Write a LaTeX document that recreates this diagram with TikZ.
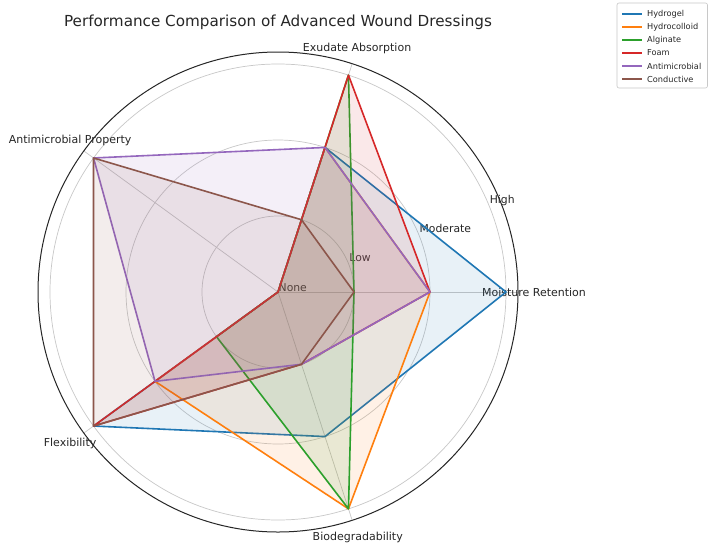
\documentclass[tikz,border=0pt]{standalone}
\usepackage{fontspec}
\setmainfont{DejaVu Sans}
\usetikzlibrary{calc}
\definecolor{cblue}{HTML}{1F77B4}
\definecolor{corange}{HTML}{FF7F0E}
\definecolor{cgreen}{HTML}{2CA02C}
\definecolor{cred}{HTML}{D62728}
\definecolor{cpurple}{HTML}{9467BD}
\definecolor{cbrown}{HTML}{8C564B}
\definecolor{gridgray}{HTML}{C8C8C8}
\definecolor{txt}{HTML}{262626}
\tikzset{
  gridline/.style={draw=gridgray, line width=0.7},
  spineline/.style={draw=black!85, line width=1.0},
  serieslook/.style={draw=#1, fill=#1, fill opacity=0.1, draw opacity=1, line width=1.6, line join=round},
  axislabel/.style={font=\fontsize{11}{12}\selectfont, text=txt, inner sep=0, anchor=center},
  rlabel/.style={font=\fontsize{10.8}{12}\selectfont, text=txt, inner sep=0, anchor=base west},
  legtext/.style={font=\fontsize{8.2}{9}\selectfont, text=txt, inner sep=0, anchor=west},
  legline/.style={line width=1.6},
}
\newcommand{\radarseries}[6]{%
  \path[serieslook=#1] (MR#2) -- (EA#3) -- (AP#4) -- (F#5) -- (B#6) -- cycle;}
\begin{document}
\begin{tikzpicture}[x=1pt,y=1pt]
\useasboundingbox (0,0) rectangle (708,-546);
\fill[white] (0,0) rectangle (708,-546);
\coordinate (C) at (278,-292);
\begin{scope}[shift={(278,-292)}]
  \foreach \r in {76,152,228} \draw[gridline] (0,0) circle[radius=\r];
  \foreach \a in {0,72,144,216,288} \draw[gridline] (0,0) -- (\a:240);
  \draw[spineline] (0,0) circle[radius=240];
  \foreach \a/\n in {0/MR,72/EA,144/AP,216/F,288/B} {
    \coordinate (\n0) at (0,0);
    \foreach \v in {1,2,3} {
      \pgfmathsetmacro{\rr}{76*\v}
      \coordinate (\n\v) at (\a:\rr);
    }
  }
  % axis labels
  \node[axislabel] (lMR) at (0:256) {Moisture Retention};
  \node[axislabel] (lEA) at (72:256) {Exudate Absorption};
  \node[axislabel] (lAP) at (144:257) {Antimicrobial Property};
  \node[axislabel] (lF) at (216:257) {Flexibility};
  \node[axislabel] (lB) at (288:258) {Biodegradability};
\end{scope}
% radial labels
\node[rlabel] (r0) at ($(C)+(0.5,0.5)$) {None};
\node[rlabel] (r1) at ($(C)+(22.5:76)+(1,1)$) {Low};
\node[rlabel] (r2) at ($(C)+(22.5:152)+(1,1)$) {Moderate};
\node[rlabel] (r3) at ($(C)+(22.5:228)+(1,1)$) {High};
% data series (MR, EA, AP, F, B)
\radarseries{cblue}{3}{2}{0}{3}{2}
\radarseries{corange}{2}{2}{0}{2}{3}
\radarseries{cgreen}{1}{3}{0}{1}{3}
\radarseries{cred}{2}{3}{0}{3}{1}
\radarseries{cpurple}{2}{2}{3}{2}{1}
\radarseries{cbrown}{1}{1}{3}{3}{1}
% title
\node[font=\fontsize{15.2}{17}\selectfont, text=txt, inner sep=0] (title) at (278,-22) {Performance Comparison of Advanced Wound Dressings};
% legend
\draw[draw=gridgray, fill=white, rounded corners=2, line width=0.6] (617,-3) rectangle (707.5,-88);
\foreach \y/\c/\t [count=\i] in {14/cblue/Hydrogel,27/corange/Hydrocolloid,40/cgreen/Alginate,53/cred/Foam,66/cpurple/Antimicrobial,79/cbrown/Conductive} {
  \coordinate (la\i) at (622,-\y);
  \coordinate (lb\i) at (642,-\y);
  \draw[legline, \c] (la\i) -- (lb\i);
  \node[legtext] (lt\i) at (647,-\y) {\t};
}
\end{tikzpicture}
\end{document}
